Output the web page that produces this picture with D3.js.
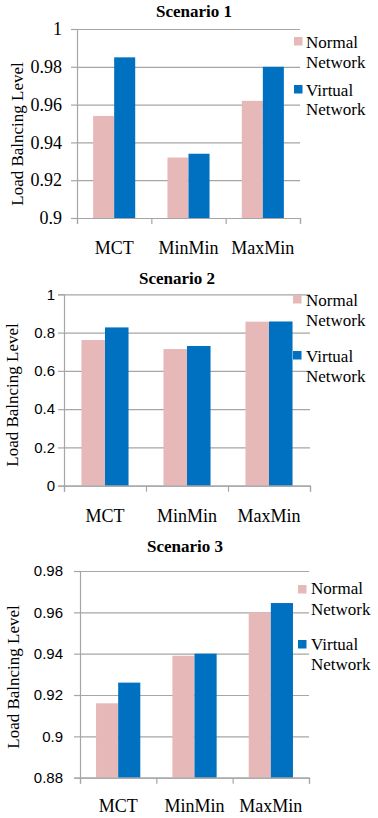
<!DOCTYPE html>
<html>
<head>
<meta charset="utf-8">
<script src="https://cdn.jsdelivr.net/npm/d3@7/dist/d3.min.js"></script>
<style>
  html, body { margin: 0; padding: 0; background: #fff; }
  svg { display: block; }
</style>
</head>
<body>
<svg id="chart" width="378" height="818"></svg>
<script>
// ---- Data ----
const categories = ["MCT", "MinMin", "MaxMin"];
const seriesNames = ["Normal Network", "Virtual Network"];
const legendLines = [["Normal", "Network"], ["Virtual", "Network"]];
const seriesColors = ["#E6B9B8", "#0070C0"];
const yAxisTitle = "Load Balncing Level";

const titles = ["Scenario 1", "Scenario 2", "Scenario 3"];

const s1Normal = [0.954, 0.932, 0.962];
const s1Virtual = [0.985, 0.934, 0.980];
const s1Ticks = [0.9, 0.92, 0.94, 0.96, 0.98, 1];
const s1TickLabels = ["0.9", "0.92", "0.94", "0.96", "0.98", "1"];

const s2Normal = [0.761, 0.714, 0.857];
const s2Virtual = [0.827, 0.730, 0.858];
const s2Ticks = [0, 0.2, 0.4, 0.6, 0.8, 1];
const s2TickLabels = ["0", "0.2", "0.4", "0.6", "0.8", "1"];

const s3Normal = [0.916, 0.939, 0.960];
const s3Virtual = [0.926, 0.940, 0.9645];
const s3Ticks = [0.88, 0.9, 0.92, 0.94, 0.96, 0.98];
const s3TickLabels = ["0.88", "0.9", "0.92", "0.94", "0.96", "0.98"];

// ---- Layout (positions/styles) ----
const SERIF = "'Liberation Serif', 'Times New Roman', Times, serif";
const SANS = "'Liberation Sans', Arial, Helvetica, sans-serif";

const panels = [
  { title: titles[0], normal: s1Normal, virtual: s1Virtual, ticks: s1Ticks, tickLabels: s1TickLabels,
    left: 77, right: 300, top: 29, bottom: 218, titleX: 194, titleY: 17,
    tickFont: SERIF, tickSizeFont: 18, tickPad: 9,
    xLabelY: 254, yTitleX: 17, yTitleY: 134, barFrac: 0.283,
    legX: 294, legTextX: 306, legSq: [37, 85], legBase: [[48, 68], [96, 115]] },
  { title: titles[1], normal: s2Normal, virtual: s2Virtual, ticks: s2Ticks, tickLabels: s2TickLabels,
    left: 64, right: 310, top: 294.3, bottom: 485.7, titleX: 177, titleY: 284,
    tickFont: SANS, tickSizeFont: 15, tickPad: 3,
    xLabelY: 522, yTitleX: 12, yTitleY: 395, barFrac: 0.287,
    legX: 293, legTextX: 306, legSq: [295, 351], legBase: [[306, 326], [362, 382]] },
  { title: titles[2], normal: s3Normal, virtual: s3Virtual, ticks: s3Ticks, tickLabels: s3TickLabels,
    left: 80, right: 309, top: 571, bottom: 777.7, titleX: 185, titleY: 552,
    tickFont: SANS, tickSizeFont: 15, tickPad: 11,
    xLabelY: 812, yTitleX: 13, yTitleY: 677, barFrac: 0.29,
    legX: 298, legTextX: 311, legSq: [585, 640], legBase: [[594, 615], [650, 670]] }
];

const gridColor = "#A6A6A6";
const svg = d3.select("#chart");

panels.forEach(p => {
  const g = svg.append("g");
  const y = d3.scaleLinear().domain([p.ticks[0], p.ticks[p.ticks.length - 1]]).range([p.bottom, p.top]);
  const x0 = d3.scaleBand().domain(categories).range([p.left, p.right]).padding(0);
  const bw = x0.bandwidth() * p.barFrac;
  const x1 = d3.scaleBand().domain([0, 1]).range([x0.bandwidth() / 2 - bw, x0.bandwidth() / 2 + bw]).padding(0);

  // gridlines
  const grid = g.append("g").attr("transform", `translate(${p.left},0)`)
    .call(d3.axisLeft(y).tickValues(p.ticks).tickSize(-(p.right - p.left)).tickFormat(""));
  grid.select(".domain").remove();
  grid.selectAll("line").attr("stroke", gridColor).attr("stroke-width", 1.2);

  // bars
  const data = categories.map((c, i) => ({ c, vals: [p.normal[i], p.virtual[i]] }));
  const groups = g.append("g").selectAll("g").data(data).join("g")
    .attr("transform", d => `translate(${x0(d.c)},0)`);
  groups.selectAll("rect").data(d => d.vals.map((v, k) => ({ v, k }))).join("rect")
    .attr("x", d => x1(d.k))
    .attr("width", x1.bandwidth())
    .attr("y", d => y(d.v))
    .attr("height", d => y(p.ticks[0]) - y(d.v))
    .attr("fill", d => seriesColors[d.k]);

  // y axis
  const yAx = g.append("g").attr("transform", `translate(${p.left},0)`)
    .call(d3.axisLeft(y).tickValues(p.ticks).tickSize(6).tickPadding(p.tickPad)
      .tickFormat((d, i) => p.tickLabels[i]));
  yAx.select(".domain").attr("stroke", gridColor).attr("stroke-width", 1.2);
  yAx.selectAll("line").attr("stroke", gridColor).attr("stroke-width", 1.2);
  yAx.selectAll("text").style("font-family", p.tickFont)
    .style("font-size", p.tickSizeFont + "px").attr("fill", "#000");

  // x axis boundary ticks
  const xb = d3.scaleLinear().domain([0, categories.length]).range([p.left, p.right]);
  const xAx = g.append("g").attr("transform", `translate(0,${p.bottom})`)
    .call(d3.axisBottom(xb).tickValues(d3.range(categories.length + 1)).tickSize(6).tickFormat(""));
  xAx.select(".domain").attr("stroke", gridColor).attr("stroke-width", 1.2);
  xAx.selectAll("line").attr("stroke", gridColor).attr("stroke-width", 1.2);

  // category labels
  const xLab = g.append("g").attr("transform", `translate(0,${p.xLabelY})`)
    .call(d3.axisBottom(x0).tickSize(0).tickPadding(0));
  xLab.select(".domain").remove();
  xLab.selectAll("text").style("font-family", SERIF).style("font-size", "18px").attr("fill", "#000")
    .attr("dy", 0).attr("y", 0);

  // title
  g.append("text").attr("x", p.titleX).attr("y", p.titleY).attr("text-anchor", "middle")
    .style("font-family", SERIF).style("font-weight", "bold").style("font-size", "17px").text(p.title);

  // y title
  g.append("text")
    .attr("transform", `translate(${p.yTitleX + 6},${p.yTitleY}) rotate(-90)`)
    .attr("text-anchor", "middle").style("font-family", SERIF).style("font-size", "17px").text(yAxisTitle);

  // legend
  seriesNames.forEach((s, k) => {
    g.append("rect").attr("x", p.legX).attr("y", p.legSq[k]).attr("width", 8.5).attr("height", 8.5)
      .attr("fill", seriesColors[k]);
    legendLines[k].forEach((line, j) => {
      g.append("text").attr("x", p.legTextX).attr("y", p.legBase[k][j])
        .style("font-family", SERIF).style("font-size", "17px").attr("fill", "#000").text(line);
    });
  });
});
</script>
</body>
</html>
